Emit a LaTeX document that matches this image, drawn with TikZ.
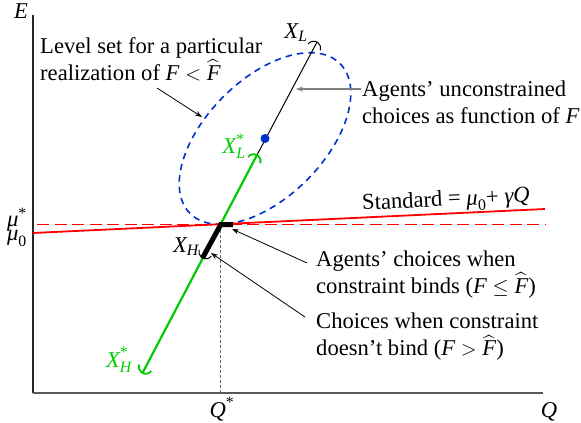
\documentclass[tikz,border=0pt]{standalone}
\usepackage{amsmath}
\usepackage{fontspec}
\setmainfont{Liberation Serif}
\usetikzlibrary{arrows.meta}
\definecolor{ared}{RGB}{255,0,0}
\definecolor{agreen}{RGB}{0,204,0}
\definecolor{ablue}{RGB}{0,51,204}
\newcommand{\iv}[1]{\text{\itshape #1}}
\newcommand{\Fhat}{\widehat{\iv{F}}}
\begin{document}
\begin{tikzpicture}[x=1pt,y=-1pt,
  font=\fontsize{22.6}{27}\selectfont,
  lbl/.style={inner sep=0pt, anchor=base},
  txt/.style={inner sep=0pt, anchor=north west, align=left},
  thinarrow/.style={draw=black, line width=0.8pt, -{Stealth[length=7pt,width=5pt]}},
  grayarrow/.style={draw=black!50, line width=1.2pt, -{Stealth[length=7pt,width=5pt]}},
  capline/.style={line width=1pt}]
\useasboundingbox (0,0) rectangle (581,423);

% axes
\coordinate (o) at (33,393);
\coordinate (ytop) at (33,15);
\coordinate (xend) at (543,393);
\draw[black!85, line width=1.3pt] (ytop) -- (o);
\draw[black!65, line width=1.3pt] (o) -- (xend);

% ellipse (level set)
\coordinate (ec) at (265,138.5);
\draw[ablue, line width=1.6pt, dash pattern=on 6.5pt off 5pt, rotate around={45:(ec)}] (ec) ellipse[x radius=106, y radius=59];

% red lines
\coordinate (rd1) at (37,224.5);
\coordinate (rd2) at (545,224.5);
\coordinate (rs1) at (33,233);
\coordinate (rs2) at (545,209);
\draw[ared, line width=1.6pt, dash pattern=on 12pt off 5.5pt] (rd1) -- (rd2);
\draw[ared, line width=1.8pt] (rs1) -- (rs2);

% vertical dashed to Q*
\coordinate (kink) at (220.8,224.5);
\coordinate (qs) at (220.8,393);
\draw[black!60, line width=1pt, dash pattern=on 3pt off 2pt] (kink) -- (qs);

% main line
\coordinate (xhs) at (142.5,373);
\coordinate (xls) at (257,155);
\coordinate (xl) at (317,42);
\coordinate (xh) at (202.5,258);
\coordinate (hend) at (233,224.5);
\draw[agreen, line width=2.2pt] (xhs) -- (xls);
\draw[black, line width=1pt] (xls) -- (xl);
\draw[black, line width=5pt] (xh) -- (kink) -- (hend);

% centre dot
\fill[ablue] (ec) circle[radius=4.5];

% end caps
\draw[black, capline] (313.7,48.2) ++(-142.2:7) arc[start angle=-142.2, end angle=17.8, radius=7];
\draw[agreen, line width=1.8pt] (253.7,161.2) ++(-142.2:7) arc[start angle=-142.2, end angle=17.8, radius=7];
\draw[agreen, line width=1.8pt] (145.8,366.8) ++(37.8:7) arc[start angle=37.8, end angle=197.8, radius=7];
\draw[black, capline] (205.8,251.8) ++(37.8:7) arc[start angle=37.8, end angle=197.8, radius=7];

% axis labels
\node[lbl] (lE) at (21,18) {\iv{E}};
\node[lbl] (lQ) at (549,417) {\iv{Q}};
\node[lbl] (lQs) at (222,417) {$\iv{Q}^{\text{*}}$};
\node[lbl] (lmus) at (17,226.5) {$\iv{μ}^{\text{*}}$};
\node[lbl] (lmu0) at (17,240.5) {$\iv{μ}_{\text{0}}$};

% point labels
\node[lbl] (lXL) at (296,38.5) {$\iv{X}_{\iv{L}}$};
\node[lbl, text=agreen] (lXLs) at (234,153.3) {$\iv{X}_{\iv{L}}^{\text{*}}$};
\node[lbl] (lXH) at (186,252) {$\iv{X}_{\iv{H}}$};
\node[lbl, text=agreen] (lXHs) at (119,367) {$\iv{X}_{\iv{H}}^{\text{*}}$};

% standard label
\node[inner sep=0pt, rotate=2.7] (lstd) at (446,201) {Standard = $\iv{μ}_{\text{0}}$+ $\iv{γ}\iv{Q}$};

% annotation texts
\node[txt] (tlevel) at (40,37.6) {Level set for a particular\\realization of $\iv{F}<\Fhat$};
\node[txt] (tuncon) at (362,80.6) {Agents’ unconstrained\\choices as function of \iv{F}};
\node[txt] (tbind) at (316,250.6) {Agents’ choices when\\constraint binds ($\iv{F}\le\Fhat$)};
\node[txt] (tnobind) at (316,313) {Choices when constraint\\doesn’t bind ($\iv{F}>\Fhat$)};

% annotation arrows
\coordinate (la1) at (157,88);
\coordinate (la2) at (202,117);
\draw[thinarrow] (la1) -- (la2);
\coordinate (ua1) at (361,89);
\coordinate (ua2) at (296,89);
\draw[grayarrow] (ua1) -- (ua2);
\coordinate (ba1) at (307,263);
\coordinate (ba2) at (232,229);
\draw[thinarrow] (ba1) -- (ba2);
\coordinate (na1) at (305,317);
\coordinate (na2) at (211,253);
\draw[thinarrow] (na1) -- (na2);
\end{tikzpicture}
\end{document}
